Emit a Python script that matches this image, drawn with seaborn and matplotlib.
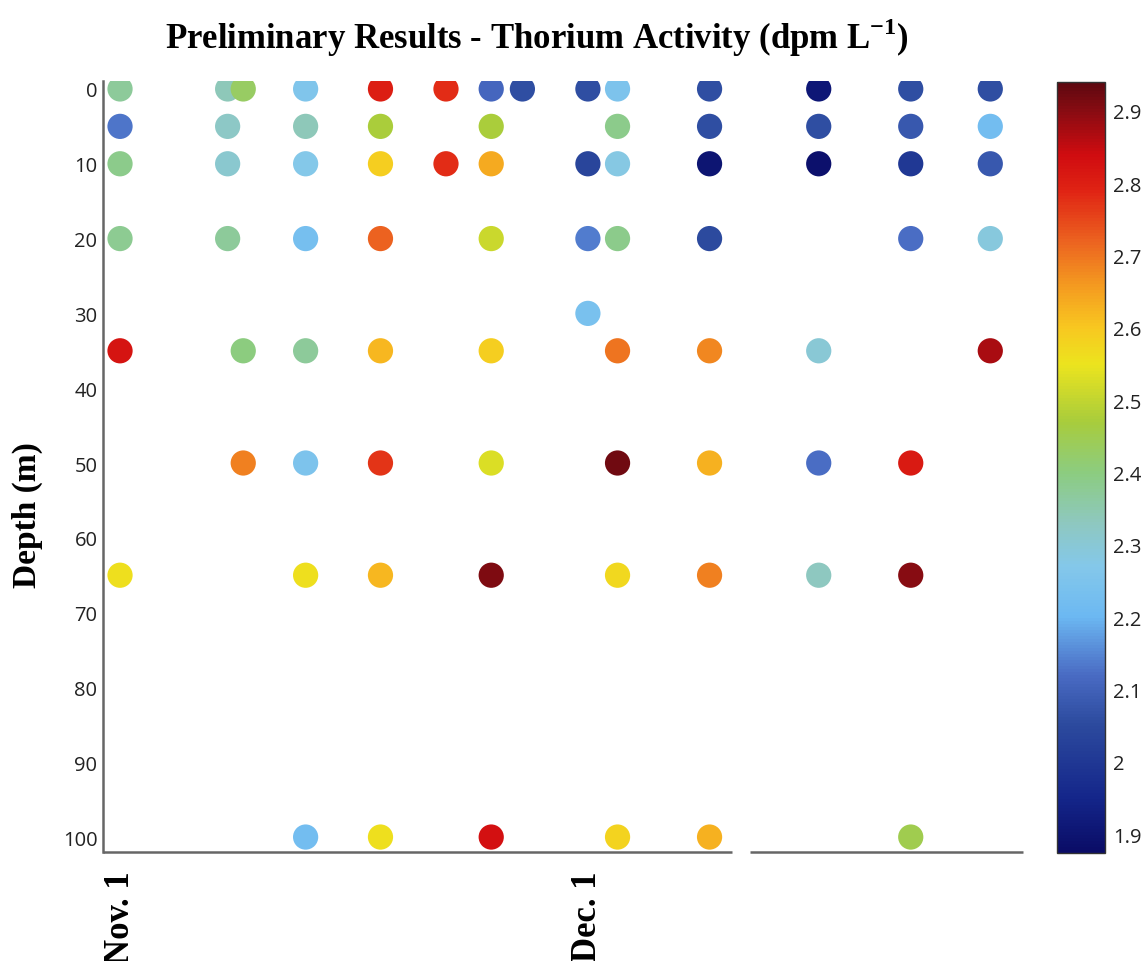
import numpy as np
import pandas as pd
import matplotlib
matplotlib.use('Agg')
import matplotlib.pyplot as plt
import seaborn as sns
from matplotlib.colors import LinearSegmentedColormap, Normalize
from matplotlib.cm import ScalarMappable

# 采样数据（天数从 11 月 1 日算起，深度 m，钍活度 dpm/L）
sample_day = [0, 0, 0, 0, 0, 0,
              6.9, 6.9, 6.9, 6.9,
              7.9, 7.9, 7.9,
              11.9, 11.9, 11.9, 11.9, 11.9, 11.9, 11.9, 11.9,
              16.7, 16.7, 16.7, 16.7, 16.7, 16.7, 16.7, 16.7,
              20.9, 20.9,
              23.8, 23.8, 23.8, 23.8, 23.8, 23.8, 23.8, 23.8,
              25.8,
              30, 30, 30, 30,
              31.9, 31.9, 31.9, 31.9, 31.9, 31.9, 31.9, 31.9,
              37.8, 37.8, 37.8, 37.8, 37.8, 37.8, 37.8, 37.8,
              44.8, 44.8, 44.8, 44.8, 44.8, 44.8,
              50.7, 50.7, 50.7, 50.7, 50.7, 50.7, 50.7,
              55.8, 55.8, 55.8, 55.8, 55.8]
sample_depth = [0, 5, 10, 20, 35, 65,
                0, 5, 10, 20,
                0, 35, 50,
                0, 5, 10, 20, 35, 50, 65, 100,
                0, 5, 10, 20, 35, 50, 65, 100,
                0, 10,
                0, 5, 10, 20, 35, 50, 65, 100,
                0,
                0, 10, 20, 30,
                0, 5, 10, 20, 35, 50, 65, 100,
                0, 5, 10, 20, 35, 50, 65, 100,
                0, 5, 10, 35, 50, 65,
                0, 5, 10, 20, 50, 65, 100,
                0, 5, 10, 20, 35]
thorium = [2.37, 2.13, 2.39, 2.38, 2.82, 2.56,
           2.34, 2.32, 2.31, 2.37,
           2.43, 2.40, 2.69,
           2.26, 2.34, 2.27, 2.23, 2.37, 2.25, 2.56, 2.22,
           2.80, 2.47, 2.59, 2.72, 2.62, 2.77, 2.62, 2.56,
           2.78, 2.78,
           2.11, 2.47, 2.64, 2.51, 2.59, 2.53, 2.91, 2.83,
           2.06,
           2.06, 2.04, 2.14, 2.24,
           2.25, 2.39, 2.28, 2.39, 2.70, 2.92, 2.57, 2.58,
           2.06, 2.06, 1.90, 2.05, 2.68, 2.63, 2.69, 2.63,
           1.91, 2.06, 1.89, 2.30, 2.12, 2.33,
           2.06, 2.08, 2.00, 2.12, 2.81, 2.90, 2.45,
           2.06, 2.22, 2.08, 2.29, 2.87]

date_ticks = [0, 30]
date_labels = ['Nov. 1', 'Dec. 1']
depth_ticks = [0, 10, 20, 30, 40, 50, 60, 70, 80, 90, 100]
cbar_ticks = [1.9, 2.0, 2.1, 2.2, 2.3, 2.4, 2.5, 2.6, 2.7, 2.8, 2.9]
vmin, vmax = 1.874, 2.94

# 色标：深蓝 -> 浅蓝 -> 绿 -> 黄 -> 橙 -> 红 -> 深红
cmap_nodes = [
    (1.874, '#0a0c66'), (1.95, '#14268a'), (2.05, '#2c4a9e'), (2.12, '#4a6cc4'),
    (2.2, '#6cb8f2'), (2.27, '#84c8ea'), (2.33, '#8ec8c0'), (2.4, '#8ccc80'),
    (2.47, '#a8cc3c'), (2.55, '#ece41e'), (2.6, '#f8c820'), (2.66, '#f49a20'),
    (2.72, '#ec6420'), (2.79, '#e02414'), (2.84, '#d00c10'), (2.9, '#8a0c12'),
    (2.94, '#5e0810'),
]
cmap = LinearSegmentedColormap.from_list(
    'thorium', [((v - vmin) / (vmax - vmin), c) for v, c in cmap_nodes])

sns.set_theme(style='white')
plt.rcParams['font.family'] = ['Open Sans', 'DejaVu Sans']
plt.rcParams['mathtext.fontset'] = 'custom'
plt.rcParams['mathtext.rm'] = 'Liberation Serif:bold'
plt.rcParams['mathtext.bf'] = 'Liberation Serif:bold'

df = pd.DataFrame({'day': sample_day, 'depth': sample_depth, 'thorium': thorium})

fig = plt.figure(figsize=(11.46, 9.62), dpi=100)
ax = fig.add_axes([0.0899, 0.1133, 0.8028, 0.8015])
cax = fig.add_axes([0.9223, 0.1123, 0.0419, 0.8014])

sns.scatterplot(data=df, x='day', y='depth', hue='thorium', palette=cmap,
                hue_norm=(vmin, vmax), s=330, linewidth=0, legend=False, ax=ax)

ax.set_xlim(-1.09, 57.9)
ax.set_ylim(102, -1.07)
ax.set_yticks(depth_ticks)
ax.set_yticklabels([str(t) for t in depth_ticks], fontsize=14.5, color='#222222')
ax.set_xticks(date_ticks)
ax.set_xticklabels(date_labels, rotation=90, fontsize=25, fontweight='bold',
                   family='Liberation Serif', va='top', ha='center', color='black')
ax.tick_params(axis='both', direction='in', length=5, width=1.2, color='#666666')
ax.tick_params(axis='x', pad=13)
ax.tick_params(axis='y', pad=4)
ax.set_xlabel('')
ax.set_ylabel('Depth (m)', fontsize=24, fontweight='bold', family='Liberation Serif',
              color='black')
ax.yaxis.set_label_coords(-0.065, 0.438)

for side in ['top', 'right', 'bottom']:
    ax.spines[side].set_visible(False)
ax.spines['left'].set_color('#666666')
ax.spines['left'].set_linewidth(1.8)

# 底部轴线有一段断开
for x0, x1 in [(0.0, 0.684), (0.703, 1.0)]:
    ax.plot([x0, x1], [0, 0], transform=ax.transAxes, color='#666666',
            linewidth=1.8, clip_on=False, solid_capstyle='butt')

ax.set_title(r'Preliminary Results - Thorium Activity (dpm L$^{-1}$)',
             fontsize=25, fontweight='bold', family='Liberation Serif',
             color='black', x=0.472, pad=24)

sm = ScalarMappable(norm=Normalize(vmin, vmax), cmap=cmap)
cbar = fig.colorbar(sm, cax=cax, ticks=cbar_ticks)
cbar.ax.set_yticklabels(['2' if t == 2.0 else f'{t:g}' for t in cbar_ticks],
                        fontsize=14.5, color='#222222')
cbar.ax.tick_params(direction='in', length=4, width=1, color='#555555',
                    left=True, right=True, pad=6)
cbar.outline.set_edgecolor('#333333')
cbar.outline.set_linewidth(1.0)

fig.savefig('out.png', dpi=100, facecolor='white')
